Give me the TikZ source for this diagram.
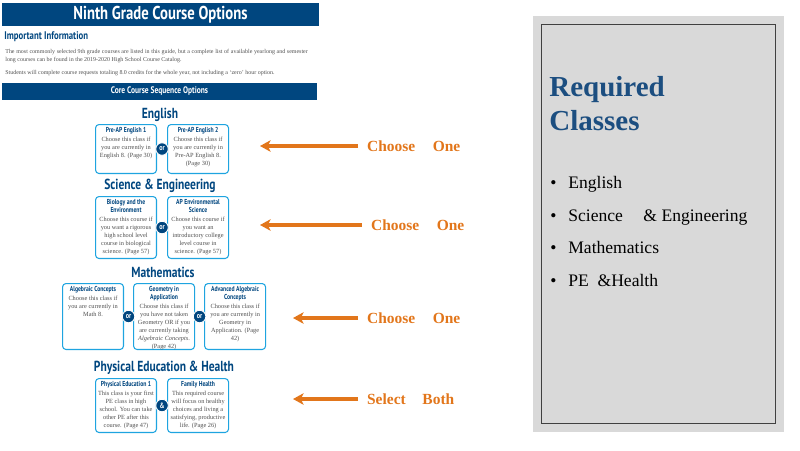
\documentclass[tikz,border=0pt]{standalone}
\usepackage{fontspec}
\setmainfont{Liberation Serif}
\newfontfamily\condsf[FakeStretch=0.79]{PT Sans}
\usetikzlibrary{positioning,arrows.meta}
\definecolor{navy}{RGB}{0,70,127}
\definecolor{skyline}{RGB}{30,164,224}
\definecolor{amber}{RGB}{226,118,27}
\definecolor{panel}{RGB}{217,217,217}
\definecolor{slate}{RGB}{28,78,128}
\definecolor{bodygray}{RGB}{80,80,80}
% course card text: height, title, body
\newcommand{\course}[3]{\parbox[c][#1][t]{1.12cm}{\centering
  {\condsf\bfseries\color{navy}\fontsize{4.1}{4.7}\selectfont #2\par}\vspace{0.8pt}
  {\color{bodygray}\fontsize{3.6}{4.5}\selectfont #3\par}}}
\tikzset{
  banner/.style={fill=navy, text=white, inner sep=0pt, font=\condsf\bfseries\fontsize{#1}{#1}\selectfont},
  banner/.default={10.6},
  head/.style={text=navy, inner sep=0pt, font=\condsf\bfseries\fontsize{8.3}{9}\selectfont},
  card/.style={draw=skyline, line width=0.6pt, rounded corners=2pt, fill=white, inner sep=0.05cm, anchor=north west},
  orb/.style={circle, fill=navy, draw=white, line width=0.5pt, text=white, inner sep=0pt, minimum size=0.25cm, font=\condsf\bfseries\fontsize{4.4}{5}\selectfont},
  arrow/.style={-{Stealth[length=6pt, width=6.5pt, inset=1.5pt]}, line width=2pt, draw=amber},
  pick/.style={anchor=west, text=amber, inner xsep=5pt, inner ysep=1pt, font=\bfseries\fontsize{8.8}{10}\selectfont},
  item/.style={anchor=base west, inner sep=0pt, font=\fontsize{10}{12}\selectfont}
}
\begin{document}
\begin{tikzpicture}[x=0.02cm, y=-0.02cm]
    \useasboundingbox (0,0) rectangle (800,450);
    % left page
    \node[banner, minimum width=6.34cm, minimum height=0.46cm] (title) at (160.5,14.5) {Ninth Grade Course Options};
    \node[anchor=west, text=navy, inner sep=0pt, font=\condsf\bfseries\fontsize{6.3}{7}\selectfont] (info) at (4,37) {Important Information};
    \node[anchor=north west, text width=6.05cm, align=justify, inner sep=0pt, text=bodygray, font=\fontsize{3.4}{4.6}\selectfont] (intro) at (5,49)
      {The most commonly selected 9th grade courses are listed in this guide, but a complete list of available yearlong and semester long courses can be found in the 2019-2020 High School Course Catalog.\\[3pt]
       Students will complete course requests totaling 8.0 credits for the whole year, not including a `zero' hour option.};
    \node[banner=5.4, minimum width=6.3cm, minimum height=0.34cm] (core) at (159.5,91.5) {Core Course Sequence Options};

    \node[head] (eng) at (160,115) {English};
    \node[card] (e1) at (95,124) {\course{0.88cm}{Pre-AP English 1}{Choose this class if you are currently in English 8. (Page 30)}};
    \node[card, right=0.2cm of e1] (e2) {\course{0.88cm}{Pre-AP English 2}{Choose this class if you are currently in Pre-AP English 8. (Page 30)}};
    \path (e1) -- node[orb] {or} (e2);

    \node[head] (sci) at (160,186) {Science \& Engineering};
    \node[card] (s1) at (95,196) {\course{1.14cm}{Biology and the Environment}{Choose this course if you want a rigorous high school level course in biological science. (Page 57)}};
    \node[card, right=0.2cm of s1] (s2) {\course{1.14cm}{AP Environmental Science}{Choose this course if you want an introductory college level course in science. (Page 57)}};
    \path (s1) -- node[orb] {or} (s2);

    \node[head] (math) at (163,272) {Mathematics};
    \node[card] (m1) at (62,283) {\course{1.22cm}{Algebraic Concepts}{Choose this class if you are currently in Math 8.}};
    \node[card, right=0.18cm of m1] (m2) {\course{1.22cm}{Geometry in Application}{Choose this class if you have not taken Geometry OR if you are currently taking \emph{Algebraic Concepts}. (Page 42)}};
    \node[card, right=0.18cm of m2] (m3) {\course{1.22cm}{Advanced Algebraic Concepts}{Choose this class if you are currently in Geometry in Application. (Page 42)}};
    \path (m1) -- node[orb] {or} (m2);
    \path (m2) -- node[orb] {or} (m3);

    \node[head] (pe) at (164,368) {Physical Education \& Health};
    \node[card] (p1) at (95,378) {\course{0.98cm}{Physical Education 1}{This class is your first PE class in high school. You can take other PE after this course. (Page 47)}};
    \node[card, right=0.2cm of p1] (p2) {\course{0.98cm}{Family Health}{This required course will focus on healthy choices and living a satisfying, productive life. (Page 26)}};
    \path (p1) -- node[orb] {\&} (p2);

    % pointers
    \node[pick] (c1) at (358,146) {Choose\hspace{10pt}One};
    \node[pick] (c2) at (362,225) {Choose\hspace{10pt}One};
    \node[pick] (c3) at (358,318) {Choose\hspace{10pt}One};
    \node[pick] (c4) at (358,399) {Select\hspace{9.5pt}Both};
    \coordinate (t1) at (260,146);
    \coordinate (t2) at (260,225);
    \coordinate (t3) at (293,318);
    \coordinate (t4) at (293,399);
    \foreach \i in {1,...,4}
      \draw[arrow] (c\i.west) -- (t\i);

    % right panel
    \node[fill=panel, minimum width=5.02cm, minimum height=8.32cm, inner sep=0pt] (panel) at (658.5,224) {};
    \node[draw=black!75, line width=0.5pt, minimum width=4.68cm, minimum height=7.98cm, inner sep=0pt] (frame) at (658,223.5) {};
    \node[anchor=north west, align=left, inner sep=0pt, text=slate, font=\bfseries\fontsize{16.5}{19.3}\selectfont] (req) at (549,76) {Required\\Classes};
    \foreach \txt/\yy [count=\i] in {English/188, {Science\quad\,\& Engineering}/221, Mathematics/253, {PE\ \ \&Health}/286}
      \node[item] (it\i) at (550,\yy) {\makebox[0.36cm][l]{\textbullet}\txt};
  \end{tikzpicture}
\end{document}
